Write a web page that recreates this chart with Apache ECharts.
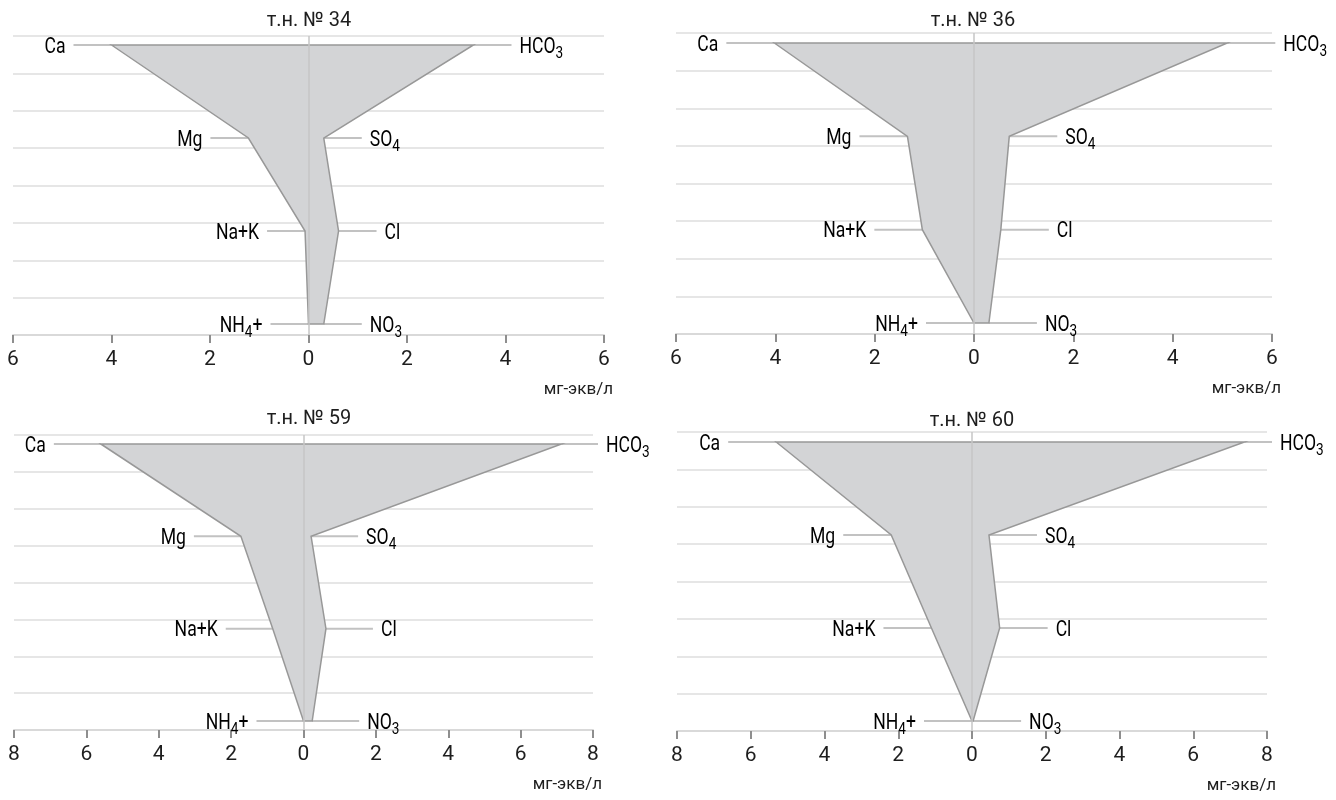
<!DOCTYPE html>
<html>
<head>
<meta charset="utf-8">
<title>Ионный состав подземных вод</title>
<script src="https://cdn.jsdelivr.net/npm/echarts@6/dist/echarts.min.js"></script>
<style>
  html, body { margin: 0; padding: 0; background: #fff; }
  #chart { width: 1336px; height: 800px; }
</style>
</head>
<body>
<div id="chart"></div>
<script>
// точки наблюдения и ионы
const wellTitles = ['т.н. № 34', 'т.н. № 36', 'т.н. № 59', 'т.н. № 60'];
const cationNames = ['Ca', 'Mg', 'Na+K', 'NH4+'];
const anionNames = ['HCO3', 'SO4', 'Cl', 'NO3'];
const unitLabel = 'мг-экв/л';

// содержание, мг-экв/л (сверху вниз)
const cations34 = [4.0, 1.22, 0.07, 0];
const anions34 = [3.35, 0.31, 0.61, 0.31];
const cations36 = [4.02, 1.34, 1.04, 0];
const anions36 = [5.1, 0.71, 0.54, 0.3];
const cations59 = [5.6, 1.73, 0.85, 0];
const anions59 = [7.13, 0.21, 0.62, 0.24];
const cations60 = [5.31, 2.19, 1.1, 0];
const anions60 = [7.39, 0.46, 0.75, 0.03];
const axisMax = [6, 6, 8, 8];

const cationSets = [cations34, cations36, cations59, cations60];
const anionSets = [anions34, anions36, anions59, anions60];

// разметка панелей (пиксели)
const panels = [
    { frame: { left: 13, right: 732, top: 36, bottom: 465 }, rows: { top: 45, bottom: 476 }, leader: 38, titleX: 309, titleY: 11 },
    { frame: { left: 676, right: 64, top: 33, bottom: 466 }, rows: { top: 43, bottom: 477 }, leader: 48, titleX: 973, titleY: 11 },
    { frame: { left: 14, right: 743, top: 435, bottom: 70 }, rows: { top: 444, bottom: 79 }, leader: 47, titleX: 309, titleY: 409 },
    { frame: { left: 677, right: 69, top: 432, bottom: 69 }, rows: { top: 442, bottom: 79 }, leader: 48, titleX: 972, titleY: 411 }
];

const FONT = 'Roboto, "Liberation Sans", sans-serif';
const TEXT_COLOR = '#1e1e1e';
const NARROW = 0.8; // сжатие подписей ионов по ширине

const rich = {
    m: { fontSize: 22, fontFamily: FONT, color: TEXT_COLOR },
    s: { fontSize: 17, fontFamily: FONT, color: TEXT_COLOR, padding: [13, 0, 0, 0] }
};

// 'HCO3' -> '{m|HCO}{s|3}'
function richName(n) {
    return n.split(/(\d)/).filter(Boolean)
        .map(p => /\d/.test(p) ? '{s|' + p + '}' : '{m|' + p + '}').join('');
}

const option = {
    animation: false,
    backgroundColor: '#ffffff',
    textStyle: { fontFamily: FONT },
    title: [], grid: [], xAxis: [], yAxis: [], series: []
};

panels.forEach((pn, k) => {
    const m = axisMax[k];
    const fi = k * 2, di = k * 2 + 1;

    // кольцо многоугольника: катионы вниз слева, анионы вверх справа
    const ring = cationSets[k].map((v, i) => [-v, i, -1])
        .concat(anionSets[k].map((v, i) => [v, i, 1]).reverse());
    const ringNames = cationNames.concat(anionNames.slice().reverse());

    option.title.push({
        text: wellTitles[k], left: pn.titleX, top: pn.titleY, textAlign: 'center', padding: 0,
        textStyle: { fontSize: 20, fontWeight: 'normal', color: TEXT_COLOR, fontFamily: FONT }
    });

    option.grid.push({ ...pn.frame });
    option.grid.push({ left: pn.frame.left, right: pn.frame.right, top: pn.rows.top, bottom: pn.rows.bottom });

    option.xAxis.push({
        type: 'value', gridIndex: fi, min: -m, max: m, interval: 2,
        name: unitLabel, nameLocation: 'end', nameGap: 9,
        nameTextStyle: { align: 'right', verticalAlign: 'top', padding: [46, 0, 0, 0], fontSize: 17, color: TEXT_COLOR, fontFamily: FONT },
        axisLine: { lineStyle: { color: '#d9d9d9', width: 2 } },
        axisTick: { length: 8, lineStyle: { color: '#8e8e8e', width: 2 } },
        axisLabel: { formatter: v => Math.abs(v), fontSize: 21, color: TEXT_COLOR, margin: 14, fontFamily: FONT },
        splitLine: { show: false }
    });
    option.xAxis.push({ type: 'value', gridIndex: di, min: -m, max: m, show: false });

    option.yAxis.push({
        type: 'value', gridIndex: fi, min: 0, max: 8, interval: 1,
        axisLine: { show: false }, axisTick: { show: false }, axisLabel: { show: false },
        splitLine: { lineStyle: { color: '#e6e6e6', width: 2 } }
    });
    option.yAxis.push({
        type: 'category', gridIndex: di, data: cationNames, boundaryGap: false, inverse: true, show: false
    });

    // нулевая вертикаль
    option.series.push({
        type: 'line', xAxisIndex: fi, yAxisIndex: fi, data: [], silent: true,
        markLine: {
            silent: true, symbol: 'none', label: { show: false },
            lineStyle: { color: '#c6c6c6', width: 1.5, type: 'solid' },
            data: [{ xAxis: 0 }]
        }
    });

    // выноски с подписями ионов
    option.series.push({
        type: 'custom', xAxisIndex: di, yAxisIndex: di, z: 2, silent: true,
        data: ring,
        renderItem: (params, api) => {
            const p = api.coord([api.value(0), api.value(1)]);
            const side = api.value(2);
            const rightEdge = api.coord([m, 0])[0] + 5;
            let x2 = p[0] + side * pn.leader;
            if (side > 0) x2 = Math.min(x2, Math.max(rightEdge, p[0] + 20));
            return {
                type: 'group',
                children: [
                    { type: 'line', shape: { x1: p[0], y1: p[1], x2: x2, y2: p[1] },
                      style: { stroke: '#c2c2c2', lineWidth: 2 } },
                    { type: 'text', x: x2 + side * 8, y: p[1] + 2, scaleX: NARROW,
                      style: { text: richName(ringNames[params.dataIndex]), rich: rich,
                               align: side < 0 ? 'right' : 'left', verticalAlign: 'middle' } }
                ]
            };
        }
    });

    // многоугольник
    option.series.push({
        type: 'custom', xAxisIndex: di, yAxisIndex: di, z: 3, silent: true,
        data: ring,
        renderItem: (params, api) => {
            if (params.dataIndexInside !== 0) return;
            const pts = [];
            for (let i = 0; i < params.dataInsideLength; i++) {
                pts.push(api.coord([api.value(0, i), api.value(1, i)]));
            }
            return { type: 'polygon', shape: { points: pts },
                     style: { fill: '#d3d4d6', stroke: '#989898', lineWidth: 1.5 } };
        }
    });
});

const chart = echarts.init(document.getElementById('chart'));
chart.setOption(option);
</script>
</body>
</html>
